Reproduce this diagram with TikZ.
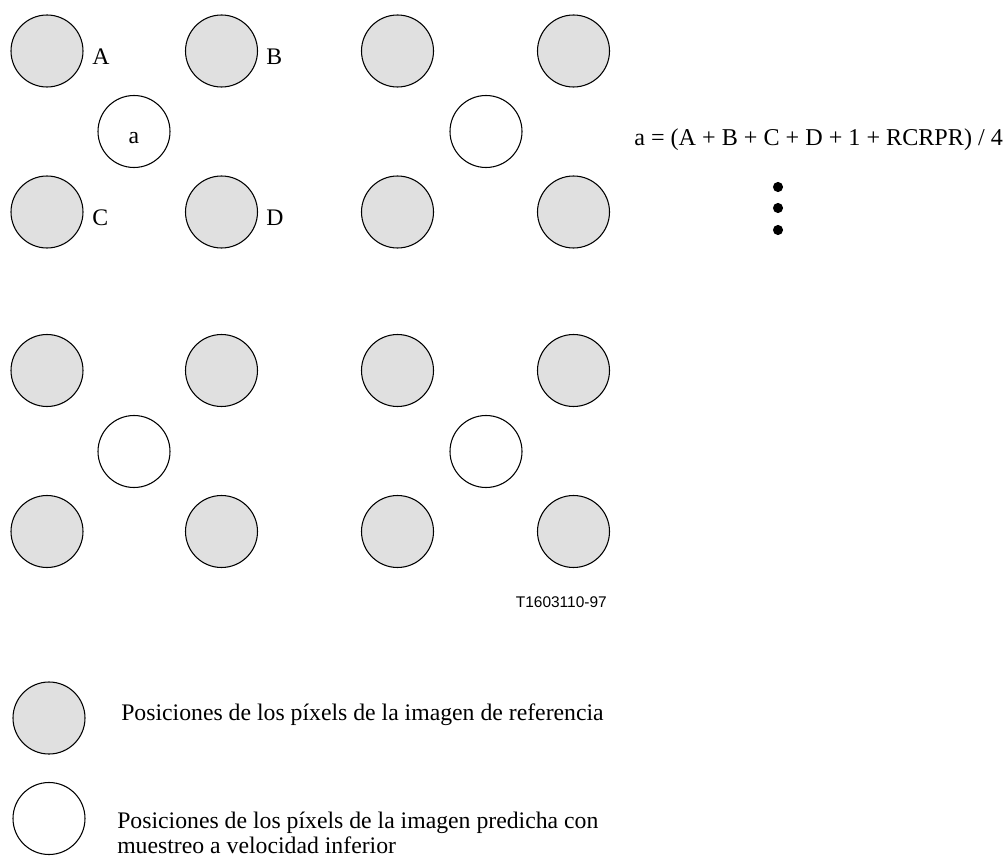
\documentclass[tikz,border=0pt]{standalone}
\usepackage{fontspec}
\setmainfont{Liberation Serif}
\newfontfamily\tagfont{Liberation Sans}
\definecolor{pixgray}{HTML}{E0E0E0}
\tikzset{
  refpix/.style={draw=black, line width=0.8pt, fill=pixgray},
  predpix/.style={draw=black, line width=0.8pt, fill=white},
  lbl/.style={inner sep=0pt, anchor=base west, font=\fontsize{17.8}{18.75}\selectfont}
}
\begin{document}
\begin{tikzpicture}[x=0.75pt,y=-0.75pt]
\useasboundingbox (0,0) rectangle (1007,859);
% upper block
\draw[refpix] (47,51) circle[radius=27pt];
\draw[refpix] (221.5,51) circle[radius=27pt];
\draw[refpix] (397.5,51) circle[radius=27pt];
\draw[refpix] (573.5,51) circle[radius=27pt];
\draw[predpix] (134,131.5) circle[radius=27pt];
\draw[predpix] (486,131.5) circle[radius=27pt];
\draw[refpix] (47,212) circle[radius=27pt];
\draw[refpix] (221.5,212) circle[radius=27pt];
\draw[refpix] (397.5,212) circle[radius=27pt];
\draw[refpix] (573.5,212) circle[radius=27pt];
\node[lbl] (labA) at (92,65) {A};
\node[lbl] (labB) at (266,65) {B};
\node[lbl] (labC) at (92,226) {C};
\node[lbl] (labD) at (266,226) {D};
\node[lbl, anchor=base] (laba) at (134,144) {a};
\node[lbl, font=\fontsize{18.1}{19}\selectfont] (formula) at (634,146) {a = (A + B + C + D + 1 + RCRPR) / 4};
\fill (778,187) circle[radius=3.8pt];
\fill (778,208) circle[radius=3.8pt];
\fill (778,230) circle[radius=3.8pt];
% lower block
\draw[refpix] (47,370.5) circle[radius=27pt];
\draw[refpix] (221.5,370.5) circle[radius=27pt];
\draw[refpix] (397.5,370.5) circle[radius=27pt];
\draw[refpix] (573.5,370.5) circle[radius=27pt];
\draw[predpix] (134,451.5) circle[radius=27pt];
\draw[predpix] (486,451.5) circle[radius=27pt];
\draw[refpix] (47,531.5) circle[radius=27pt];
\draw[refpix] (221.5,531.5) circle[radius=27pt];
\draw[refpix] (397.5,531.5) circle[radius=27pt];
\draw[refpix] (573.5,531.5) circle[radius=27pt];
\node[inner sep=0pt, anchor=base east, font=\tagfont\fontsize{11.6}{14}\selectfont] (figtag) at (607,607) {T1603110-97};
% legend
\draw[refpix] (49,718) circle[radius=27pt];
\draw[predpix] (49,818.5) circle[radius=27pt];
\node[lbl] (legref) at (121,720) {Posiciones de los píxels de la imagen de referencia};
\node[lbl] (legpredA) at (117,828) {Posiciones de los píxels de la imagen predicha con};
\node[lbl] (legpredB) at (117,853) {muestreo a velocidad inferior};
\end{tikzpicture}
\end{document}
